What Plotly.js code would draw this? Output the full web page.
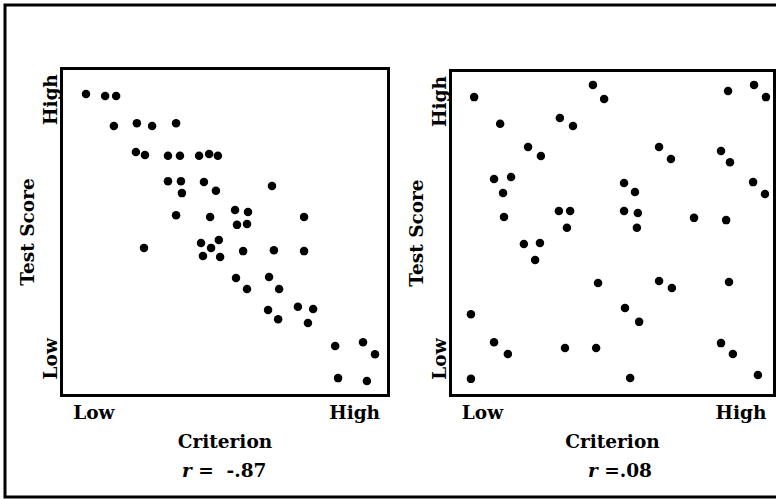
<!DOCTYPE html>
<html>
<head>
<meta charset="utf-8">
<script src="https://cdn.plot.ly/plotly-3.0.1.min.js"></script>
<style>html,body{margin:0;padding:0;background:#fff;}#chart{width:776px;height:499px;}</style>
</head>
<body>
<div id="chart"></div>
<script>
// Left panel: Criterion (x) vs Test Score (y), r = -.87 (scale 0-100, Low..High)
var critLeft  = [7.1,13.0,16.4,15.7,22.8,27.5,34.9,22.5,25.3,32.4,36.1,42.0,45.1,47.8,32.4,36.4,43.5,36.7,47.2,64.5,
                 34.9,45.4,53.1,57.1,53.7,56.8,74.4,25.0,42.6,48.1,45.7,43.2,48.5,55.6,65.1,74.4,53.4,63.6,56.8,66.7,
                 63.3,72.5,77.2,66.4,75.6,84.0,92.6,96.3,84.9,93.8];
var scoreLeft = [92.6,92.0,92.0,82.7,83.6,82.7,83.6,74.7,73.8,73.5,73.5,73.5,74.1,73.5,65.7,65.7,65.4,62.0,62.7,64.2,
                 55.2,54.6,56.8,56.2,52.2,52.5,54.6,45.1,46.6,47.5,45.1,42.6,42.3,44.1,44.4,44.1,35.8,36.1,32.4,32.4,
                 25.9,26.9,26.2,23.1,21.9,14.8,16.0,12.3,4.9,4.0];
// Right panel: r = .08
var critRight  = [6.9,15.0,43.9,47.4,33.6,37.7,86.0,94.1,97.8,23.7,27.7,64.5,68.2,83.8,86.6,13.1,18.4,15.9,16.2,53.6,
                  57.0,33.3,36.8,35.8,53.6,57.9,57.6,75.4,85.4,93.8,97.5,22.4,27.4,25.9,45.5,64.5,68.5,86.3,53.9,58.3,
                  5.9,13.1,17.4,35.2,44.9,83.8,87.5,5.9,55.5,95.3];
var scoreRight = [92.2,83.9,96.0,91.6,85.7,83.2,94.1,96.0,92.2,76.7,73.9,76.7,73.0,75.5,72.0,66.8,67.4,62.4,55.0,65.5,
                  62.7,56.8,56.8,51.6,56.8,56.2,51.6,54.7,54.0,65.8,62.1,46.6,46.9,41.6,34.5,35.1,32.9,34.8,26.7,22.4,
                  24.8,16.1,12.4,14.3,14.3,15.8,12.4,4.7,5.0,5.9];
var tickVals = [9.5, 90];
var xTickText = ['Low', 'High'];
var yTickVals = [10, 90];
var yTickText = ['Low', 'High'];
var rLabels = ['<i>r</i> =  -.87', '<i>r</i> =.08'];

var F = {family: 'DejaVu Serif', size: 18.5, weight: 'bold', color: '#000'};
var W = 776, H = 499;
function px(x){return x/W;}
function py(y){return 1 - y/H;}

var mk = {color: '#000', size: 8.5};
var traces = [
  {type:'scatter', mode:'markers', x: critLeft, y: scoreLeft, marker: mk, xaxis:'x', yaxis:'y', hoverinfo:'none'},
  {type:'scatter', mode:'markers', x: critRight, y: scoreRight, marker: mk, xaxis:'x2', yaxis:'y2', hoverinfo:'none'}
];

function xax(dom){
  return {domain: dom, range:[0,100], showgrid:false, zeroline:false, showline:true, mirror:true,
          linecolor:'#000', linewidth:3, ticks:'', tickvals: tickVals, ticktext: xTickText,
          tickfont: F, fixedrange:true,
          title:{text:'Criterion', font:F, standoff:13}};
}
function yax(dom){
  return {domain: dom, range:[0,100], showgrid:false, zeroline:false, showline:true, mirror:true,
          linecolor:'#000', linewidth:3, ticks:'', tickvals: yTickVals, ticktext: yTickText,
          tickangle:-90, tickfont: F, fixedrange:true, ticklabelstandoff:-4,
          title:{text:'Test Score', font:F, standoff:1}};
}

var layout = {
  width: W, height: H, margin:{l:0,r:0,t:0,b:0}, showlegend:false,
  paper_bgcolor:'#fff', plot_bgcolor:'#fff', font: F,
  xaxis: xax([px(63), px(387)]),
  yaxis: Object.assign(yax([py(394), py(70)]), {anchor:'x'}),
  xaxis2: Object.assign(xax([px(452), px(773)]), {anchor:'y2'}),
  yaxis2: Object.assign(yax([py(394), py(72)]), {anchor:'x2'}),
  annotations: [
    {xref:'paper', yref:'paper', x: px(224), y: py(470), text: rLabels[0], showarrow:false, font:F, xanchor:'center', yanchor:'middle'},
    {xref:'paper', yref:'paper', x: px(620), y: py(470), text: rLabels[1], showarrow:false, font:F, xanchor:'center', yanchor:'middle'}
  ],
  shapes: [
    {type:'rect', xref:'paper', yref:'paper', x0: px(5), y0: py(497), x1: px(790), y1: py(5),
     line:{color:'#000', width:3}, fillcolor:'rgba(0,0,0,0)'}
  ]
};
layout.xaxis.anchor = 'y';
Plotly.newPlot('chart', traces, layout, {staticPlot:true, displayModeBar:false});
</script>
</body>
</html>
